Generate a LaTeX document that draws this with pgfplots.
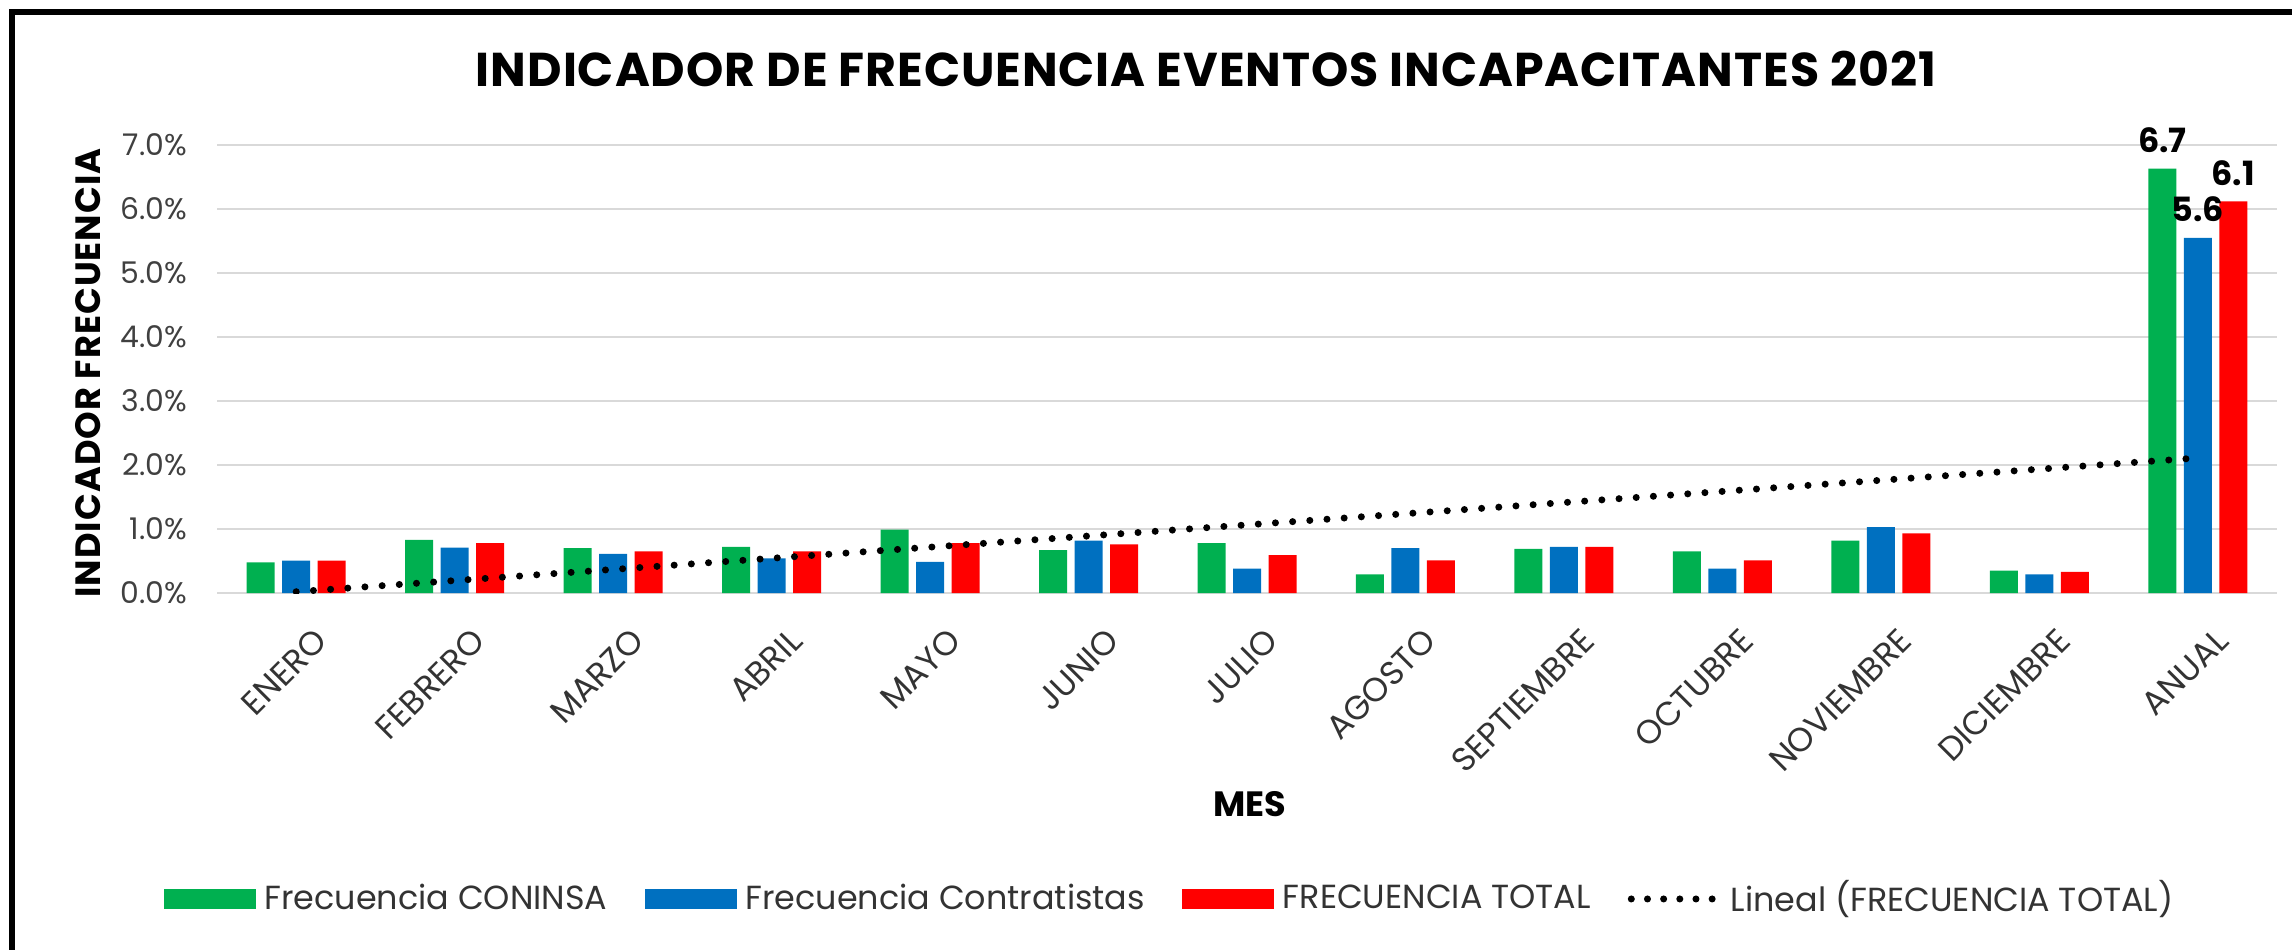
\documentclass[border=0pt]{standalone}
\usepackage{pgfplots}
\pgfplotsset{compat=1.18}
\usepackage{fontspec}
\setmainfont{Poppins}
\definecolor{cgreen}{HTML}{00B050}
\definecolor{cblue}{HTML}{0070C0}
\definecolor{cred}{HTML}{FF0000}
\definecolor{gridgray}{HTML}{D9D9D9}

\begin{document}
\begin{tikzpicture}
\useasboundingbox (0,0) rectangle (22.92,9.49);
% marco del grafico (solo superior e izquierdo visibles)
\draw[line width=0.06cm] (0.12,-0.5) -- (0.12,9.37) -- (23.5,9.37);
\node[font=\bfseries\fontsize{13.5}{15}\selectfont\addfontfeatures{LetterSpace=2}] at (12.06,8.80)
  {INDICADOR DE FRECUENCIA EVENTOS INCAPACITANTES 2021};
\node[font=\bfseries\fontsize{10}{11}\selectfont\addfontfeatures{LetterSpace=3}, rotate=90] at (0.88,5.76)
  {INDICADOR FRECUENCIA};
\node[font=\bfseries\fontsize{10}{11}\selectfont] at (12.50,1.45) {MES};

\begin{axis}[
  at={(2.17cm,3.56cm)}, anchor=south west,
  scale only axis, width=20.6cm, height=4.48cm,
  ybar=0.075cm, bar width=0.28cm,
  xmin=-0.5, xmax=12.5, ymin=0, ymax=7,
  xtick={0,...,12},
  xticklabels={ENERO,FEBRERO,MARZO,ABRIL,MAYO,JUNIO,JULIO,AGOSTO,
               SEPTIEMBRE,OCTUBRE,NOVIEMBRE,DICIEMBRE,ANUAL},
  xticklabel style={rotate=45, anchor=north east, xshift=0pt, yshift=-6.5pt,
                    font=\fontsize{9.5}{11}\selectfont, text=black!80},
  ytick={0,...,7},
  yticklabel={\pgfmathprintnumber[fixed,fixed zerofill,precision=1]{\tick}\%},
  yticklabel style={font=\fontsize{8.5}{10}\selectfont, xshift=-5pt, text=black!75},
  /pgf/number format/assume math mode=true,
  axis line style={draw=none},
  major tick length=0pt,
  ymajorgrids, grid style={gridgray, line width=0.8pt},
  point meta=explicit symbolic,
  nodes near coords={\pgfplotspointmeta},
  nodes near coords style={font=\bfseries\fontsize{9.5}{11}\selectfont, yshift=1pt},
  legend style={at={(0.4636,-0.683)}, anchor=center, draw=none,
                font=\fontsize{9.5}{11}\selectfont, legend columns=4,
                text=black!80,
                /tikz/every even column/.append style={column sep=0.3cm},
                /tikz/every odd column/.append style={column sep=0.02cm}},
]
\addplot[fill=cgreen, draw=none,
  legend image code/.code={\fill[cgreen] (0cm,-0.1cm) rectangle (0.92cm,0.1cm);}]
  coordinates {(0,0.48) [] (1,0.83) [] (2,0.70) [] (3,0.72) [] (4,0.99) []
               (5,0.67) [] (6,0.78) [] (7,0.29) [] (8,0.69) [] (9,0.65) []
               (10,0.82) [] (11,0.35) [] (12,6.63) [6.7]};
\addlegendentry{Frecuencia CONINSA}
\addplot[fill=cblue, draw=none,
  legend image code/.code={\fill[cblue] (0cm,-0.1cm) rectangle (0.92cm,0.1cm);}]
  coordinates {(0,0.505) [] (1,0.71) [] (2,0.61) [] (3,0.54) [] (4,0.485) []
               (5,0.82) [] (6,0.38) [] (7,0.70) [] (8,0.72) [] (9,0.38) []
               (10,1.03) [] (11,0.29) [] (12,5.55) [5.6]};
\addlegendentry{Frecuencia Contratistas}
\addplot[fill=cred, draw=none,
  legend image code/.code={\fill[cred] (0cm,-0.1cm) rectangle (0.92cm,0.1cm);}]
  coordinates {(0,0.505) [] (1,0.78) [] (2,0.65) [] (3,0.65) [] (4,0.78) []
               (5,0.76) [] (6,0.59) [] (7,0.51) [] (8,0.72) [] (9,0.51) []
               (10,0.93) [] (11,0.33) [] (12,6.12) [6.1]};
\addlegendentry{FRECUENCIA TOTAL}
% tendencia lineal de FRECUENCIA TOTAL
\addplot[sharp plot, black, line width=2pt, line cap=round,
  dash pattern=on 0pt off 4.9pt, nodes near coords={},
  legend image code/.code={\draw[black, line width=2pt, line cap=round,
    dash pattern=on 0pt off 4.6pt] (0.05cm,0cm) -- (0.92cm,0cm);}]
  coordinates {(0,0.02) [] (12,2.11) []};
\addlegendentry{Lineal (FRECUENCIA TOTAL)}
\end{axis}
\end{tikzpicture}
\end{document}
